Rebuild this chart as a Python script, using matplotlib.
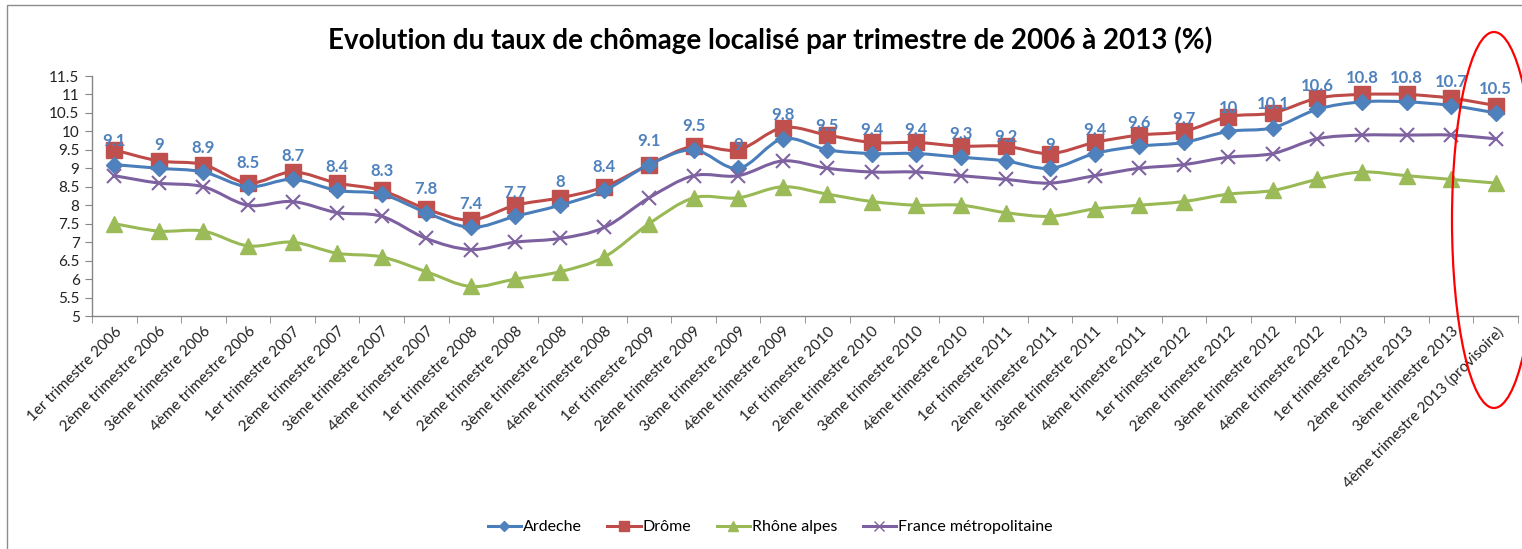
import matplotlib
matplotlib.use("Agg")
import matplotlib.pyplot as plt
import numpy as np
from matplotlib.path import Path
from matplotlib.patches import PathPatch, Ellipse, Rectangle
from matplotlib.lines import Line2D

categories = []
for year in range(2006, 2014):
    for q in ["1er", "2ème", "3ème", "4ème"]:
        categories.append(f"{q} trimestre {year}")
categories[-1] = "4ème trimestre 2013 (provisoire)"

ardeche = [9.1, 9.0, 8.9, 8.5, 8.7, 8.4, 8.3, 7.8, 7.4, 7.7, 8.0, 8.4,
           9.1, 9.5, 9.0, 9.8, 9.5, 9.4, 9.4, 9.3, 9.2, 9.0, 9.4, 9.6,
           9.7, 10.0, 10.1, 10.6, 10.8, 10.8, 10.7, 10.5]
drome = [9.5, 9.2, 9.1, 8.6, 8.9, 8.6, 8.4, 7.9, 7.6, 8.0, 8.2, 8.5,
         9.1, 9.6, 9.5, 10.1, 9.9, 9.7, 9.7, 9.6, 9.6, 9.4, 9.7, 9.9,
         10.0, 10.4, 10.5, 10.9, 11.0, 11.0, 10.9, 10.7]
rhone = [7.5, 7.3, 7.3, 6.9, 7.0, 6.7, 6.6, 6.2, 5.8, 6.0, 6.2, 6.6,
         7.5, 8.2, 8.2, 8.5, 8.3, 8.1, 8.0, 8.0, 7.8, 7.7, 7.9, 8.0,
         8.1, 8.3, 8.4, 8.7, 8.9, 8.8, 8.7, 8.6]
france = [8.8, 8.6, 8.5, 8.0, 8.1, 7.8, 7.7, 7.1, 6.8, 7.0, 7.1, 7.4,
          8.2, 8.8, 8.8, 9.2, 9.0, 8.9, 8.9, 8.8, 8.7, 8.6, 8.8, 9.0,
          9.1, 9.3, 9.4, 9.8, 9.9, 9.9, 9.9, 9.8]
series_names = ["Ardeche", "Drôme", "Rhône alpes", "France métropolitaine"]
yticks = [5, 5.5, 6, 6.5, 7, 7.5, 8, 8.5, 9, 9.5, 10, 10.5, 11, 11.5]
ytick_labels = ["5", "5.5", "6", "6.5", "7", "7.5", "8", "8.5", "9", "9.5",
                "10", "10.5", "11", "11.5"]

W, H = 1522, 549
fig = plt.figure(figsize=(W / 100, H / 100), dpi=100)
plt.rcParams['font.family'] = ['Lato', 'DejaVu Sans']

ax = fig.add_axes([92 / W, 1 - 316 / H, (1518 - 92) / W, (316 - 76) / H])
x = np.arange(len(categories))

def smooth_path(xs, ys):
    xs = np.asarray(xs, float); ys = np.asarray(ys, float)
    n = len(xs)
    verts = [(xs[0], ys[0])]
    codes = [Path.MOVETO]
    for i in range(n - 1):
        p0 = np.array([xs[max(i - 1, 0)], ys[max(i - 1, 0)]])
        p1 = np.array([xs[i], ys[i]])
        p2 = np.array([xs[i + 1], ys[i + 1]])
        p3 = np.array([xs[min(i + 2, n - 1)], ys[min(i + 2, n - 1)]])
        c1 = p1 + (p2 - p0) / 6.0
        c2 = p2 - (p3 - p1) / 6.0
        verts += [tuple(c1), tuple(c2), tuple(p2)]
        codes += [Path.CURVE4] * 3
    return Path(verts, codes)

styles = [
    (ardeche, "#4A7EBB", "#4F81BD", "D", 8, 4),
    (drome, "#BE4B48", "#C0504D", "s", 11, 3),
    (rhone, "#98B954", "#9BBB59", "^", 11, 2),
    (france, "#7D60A0", "#8064A2", "x", 10, 5),
]
handles = []
for (vals, lc, mc, mk, ms, z), name in zip(styles, series_names):
    patch = PathPatch(smooth_path(x, vals), facecolor="none", edgecolor=lc,
                      lw=2.2, zorder=z, capstyle="round", joinstyle="round")
    ax.add_patch(patch)
    if mk == "x":
        ax.plot(x, vals, linestyle="none", marker=mk, ms=ms, mec=mc,
                mew=1.5, zorder=z + 0.5)
    else:
        ax.plot(x, vals, linestyle="none", marker=mk, ms=ms, mfc=mc, mec=mc,
                zorder=z + 0.5)
    handles.append(Line2D([], [], color=lc, lw=2.2, marker=mk,
                          ms=ms * 0.65, mfc=mc, mec=mc,
                          mew=1.0, label=name))

for xi, v in zip(x, ardeche):
    ax.annotate(f"{v:g}", (xi, v), xytext=(0, 17), textcoords="offset points",
                ha="center", va="center", color="#4F81BD", fontsize=12,
                fontweight="bold", zorder=10)

ax.set_xlim(-0.5, len(categories) - 0.5)
ax.set_ylim(5, 11.5)
ax.set_yticks(yticks)
ax.set_yticklabels(ytick_labels, fontsize=11, color="#222222")
ax.set_xticks(x)
ax.set_xticklabels(categories, rotation=45, ha="right",
                   rotation_mode="anchor", fontsize=11, color="#222222")
ax.set_xticks(np.arange(len(categories) + 1) - 0.5, minor=True)
ax.tick_params(axis="x", which="major", length=0, pad=6)
ax.tick_params(axis="x", which="minor", length=5, color="#868686")
ax.tick_params(axis="y", length=5, color="#868686", pad=4)
for s in ["top", "right"]:
    ax.spines[s].set_visible(False)
for s in ["left", "bottom"]:
    ax.spines[s].set_color("#868686")
    ax.spines[s].set_linewidth(1.0)

fig.text(770 / W, 1 - 40 / H,
         "Evolution du taux de chômage localisé par trimestre de 2006 à 2013 (%)",
         ha="center", va="center", fontsize=20, fontweight="bold", color="black")

fig.legend(handles=handles, loc="center", bbox_to_anchor=(770 / W, 1 - 527 / H),
           ncol=4, frameon=False, fontsize=11.5, handlelength=2.1,
           columnspacing=1.6, handletextpad=0.1)

# chart frame
fig.patches.append(Rectangle((7 / W, -0.1), 1.2, (1 - 5 / H) + 0.1,
                             transform=fig.transFigure, fill=False,
                             edgecolor="#8c8c8c", lw=1.0))
# red highlight ellipse
fig.patches.append(Ellipse((1494 / W, 1 - 220 / H), 84 / W, 376 / H,
                           transform=fig.transFigure, fill=False,
                           edgecolor="red", lw=1.6, zorder=20))

fig.savefig("out.png", dpi=100)
